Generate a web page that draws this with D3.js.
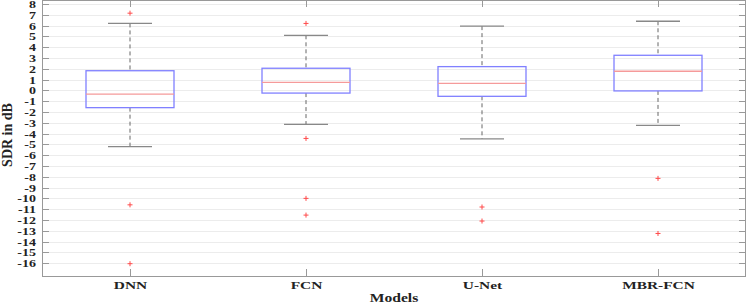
<!DOCTYPE html>
<html>
<head>
<meta charset="utf-8">
<script src="https://cdn.jsdelivr.net/npm/d3@7"></script>
<style>
  body { margin: 0; background: #fff; }
  text { font-family: "Liberation Serif", "Times New Roman", serif; font-weight: bold; fill: #222; }
</style>
</head>
<body>
<div id="chart"></div>
<script>
/* SDR box plots per model */

var models = ["DNN", "FCN", "U-Net", "MBR-FCN"];
var whiskerLow = [-5.2, -3.15, -4.5, -3.25];
var q1 = [-1.6, -0.25, -0.55, -0.05];
var median = [-0.35, 0.75, 0.65, 1.77];
var q3 = [1.82, 2.05, 2.2, 3.25];
var whiskerHigh = [6.2, 5.1, 5.95, 6.4];
var outliers = [
  [7.15, -10.6, -16.05],
  [6.2, -4.45, -10.0, -11.55],
  [-10.8, -12.1],
  [-8.15, -13.25]
];
var yTicks = d3.range(-16, 9);

var margin = {top: 0, right: 1, bottom: 29, left: 42},
    width = 747 - margin.left - margin.right,
    height = 305 - margin.top - margin.bottom;

var svg = d3.select("#chart")
            .append("svg")
            .attr("width", 747)
            .attr("height", 305)
            .append("g")
            .attr("transform", "translate(" + margin.left + "," + margin.top + ")");

var x = d3.scaleBand()
          .domain(models)
          .range([0, width]);

var y = d3.scaleLinear()
          .domain([-17.19, 8.37])
          .range([height, 0]);

var axisColor = "#999";

// grid
svg.append("g")
   .selectAll("line")
   .data(yTicks)
   .enter().append("line")
   .attr("x1", 0).attr("x2", width)
   .attr("y1", function(d) { return Math.round(y(d)) + 0.5; })
   .attr("y2", function(d) { return Math.round(y(d)) + 0.5; })
   .style("stroke", "#ececec");

// frame
svg.append("rect")
   .attr("x", 0.5).attr("y", 0.5)
   .attr("width", width - 1).attr("height", height)
   .style("fill", "none")
   .style("stroke", axisColor);

// y ticks, inward on both sides
var yt = svg.append("g").selectAll("g")
   .data(yTicks)
   .enter().append("g")
   .attr("transform", function(d) { return "translate(0," + (Math.round(y(d)) + 0.5) + ")"; });
yt.append("line").attr("x1", 0).attr("x2", 7).style("stroke", axisColor);
yt.append("line").attr("x1", width - 7).attr("x2", width).style("stroke", axisColor);
yt.append("text")
  .attr("transform", "translate(-6,3.5) scale(1.4,1)")
  .attr("text-anchor", "end")
  .style("font-size", "10px")
  .text(function(d) { return d; });

// x ticks top and bottom
var xt = svg.append("g").selectAll("g")
   .data(models)
   .enter().append("g")
   .attr("transform", function(d) { return "translate(" + (Math.round(x(d) + x.bandwidth() / 2) + 0.5) + ",0)"; });
xt.append("line").attr("y1", 0).attr("y2", 7).style("stroke", axisColor);
xt.append("line").attr("y1", height - 7).attr("y2", height).style("stroke", axisColor);
xt.append("text")
  .attr("transform", "translate(0," + (height + 13) + ") scale(1.4,1)")
  .attr("text-anchor", "middle")
  .style("font-size", "11px")
  .text(function(d) { return d; });

// boxes
var boxes = svg.append("g").selectAll("g")
   .data(models)
   .enter().append("g")
   .attr("transform", function(d) { return "translate(" + (x(d) + x.bandwidth() / 2) + ",0)"; });

var bw = x.bandwidth() / 2, cw = x.bandwidth() / 4;

boxes.append("line")
   .attr("y1", function(d, i) { return y(whiskerHigh[i]); })
   .attr("y2", function(d, i) { return y(q3[i]); })
   .style("stroke", "#666").style("stroke-dasharray", "4,3");
boxes.append("line")
   .attr("y1", function(d, i) { return y(q1[i]); })
   .attr("y2", function(d, i) { return y(whiskerLow[i]); })
   .style("stroke", "#666").style("stroke-dasharray", "4,3");
boxes.append("line")
   .attr("x1", -cw / 2).attr("x2", cw / 2)
   .attr("y1", function(d, i) { return y(whiskerHigh[i]); })
   .attr("y2", function(d, i) { return y(whiskerHigh[i]); })
   .style("stroke", "#888").style("stroke-width", 1.3);
boxes.append("line")
   .attr("x1", -cw / 2).attr("x2", cw / 2)
   .attr("y1", function(d, i) { return y(whiskerLow[i]); })
   .attr("y2", function(d, i) { return y(whiskerLow[i]); })
   .style("stroke", "#888").style("stroke-width", 1.3);
boxes.append("rect")
   .attr("x", -bw / 2).attr("width", bw)
   .attr("y", function(d, i) { return y(q3[i]); })
   .attr("height", function(d, i) { return y(q1[i]) - y(q3[i]); })
   .style("fill", "none").style("stroke", "#8080ff").style("stroke-width", 1.3);
boxes.append("line")
   .attr("x1", -bw / 2).attr("x2", bw / 2)
   .attr("y1", function(d, i) { return y(median[i]); })
   .attr("y2", function(d, i) { return y(median[i]); })
   .style("stroke", "#f59a9a").style("stroke-width", 1.3);

// outliers as red plus marks
boxes.each(function(d, i) {
  var g = d3.select(this).selectAll("g.out")
    .data(outliers[i])
    .enter().append("g")
    .attr("class", "out")
    .attr("transform", function(v) { return "translate(0," + y(v) + ")"; });
  g.append("line").attr("x1", -2.5).attr("x2", 2.5).style("stroke", "#ff4a4a");
  g.append("line").attr("y1", -2.5).attr("y2", 2.5).style("stroke", "#ff4a4a");
});

// titles
svg.append("text")
   .attr("transform", "translate(" + (width / 2) + "," + (height + 26) + ") scale(1.2,1)")
   .attr("text-anchor", "middle")
   .style("font-size", "13px")
   .text("Models");

svg.append("text")
   .attr("transform", "translate(" + (-margin.left + 12) + "," + 135 + ") rotate(-90)")
   .attr("text-anchor", "middle")
   .style("font-size", "14px")
   .text("SDR in dB");
</script>
</body>
</html>
